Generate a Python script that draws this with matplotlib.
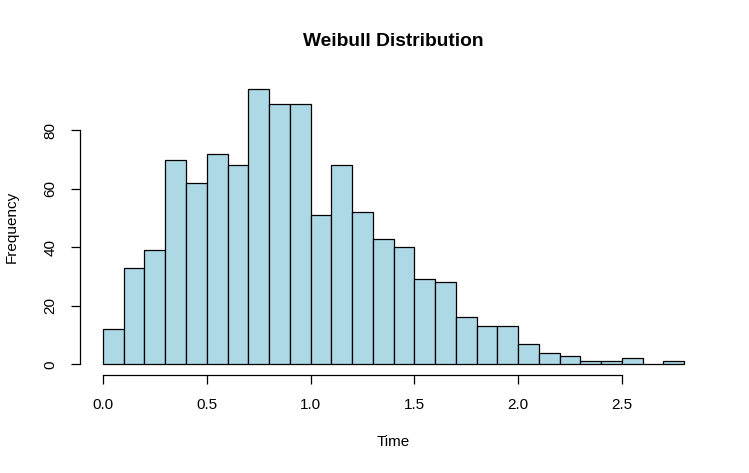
import numpy as np
import matplotlib
matplotlib.use('Agg')
from matplotlib import pyplot as plt

plt.rcParams['font.family'] = ['Liberation Sans', 'DejaVu Sans']

# histogram counts, bins of width 0.1 starting at 0
bin_edges = np.round(np.arange(0, 2.81, 0.1), 2)
counts = [12, 33, 39, 70, 62, 72, 68, 94, 89, 89,
          51, 68, 52, 43, 40, 29, 28, 16, 13, 13,
          7, 4, 3, 1, 1, 2, 0, 1]
x_ticks = [0.0, 0.5, 1.0, 1.5, 2.0, 2.5]
x_labels = ['0.0', '0.5', '1.0', '1.5', '2.0', '2.5']
y_ticks = [0, 20, 40, 60, 80]

fig = plt.figure(figsize=(7.49, 4.73), dpi=100)
ax = fig.add_axes([0.1064, 0.2066, 0.8382, 0.6276])

ax.bar(bin_edges[:-1], counts, width=0.1, align='edge',
       color='#ADD8E6', edgecolor='black', linewidth=0.9)

# R style axis extension (4%)
x0, x1 = bin_edges[0], bin_edges[-1]
ax.set_xlim(x0 - 0.04 * (x1 - x0), x1 + 0.04 * (x1 - x0))
ymax = max(counts)
ax.set_ylim(-0.04 * ymax, ymax * 1.04)

for s in ['top', 'right']:
    ax.spines[s].set_visible(False)
ax.spines['left'].set_bounds(y_ticks[0], y_ticks[-1])
ax.spines['bottom'].set_bounds(x_ticks[0], x_ticks[-1])
ax.spines['left'].set_linewidth(0.9)
ax.spines['bottom'].set_linewidth(0.9)

ax.set_xticks(x_ticks)
ax.set_xticklabels(x_labels)
ax.set_yticks(y_ticks)
ax.tick_params(length=6.5, width=0.9, labelsize=11, pad=9.5)
plt.setp(ax.get_yticklabels(), rotation=90, va='center')

ax.set_title('Weibull Distribution', fontsize=13.8, fontweight='bold', pad=23.5)
ax.set_xlabel('Time', fontsize=11)
ax.set_ylabel('Frequency', fontsize=11)
ax.xaxis.set_label_coords(0.5, -0.2)
ax.yaxis.set_label_coords(-0.097, 0.5)

plt.savefig('out.png', dpi=100)
